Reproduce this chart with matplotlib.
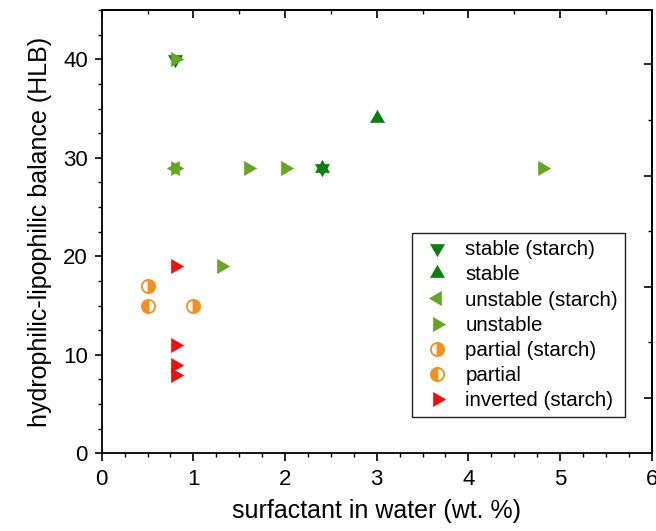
import matplotlib
matplotlib.use("Agg")
import matplotlib.pyplot as plt
from matplotlib.ticker import MultipleLocator, FixedLocator
from matplotlib.path import Path
import numpy as np

plt.rcParams['font.family'] = ['Liberation Sans', 'DejaVu Sans']

# ---- data ----
stable_starch_x = [0.8, 2.4]
stable_starch_y = [40, 29]
stable_x = [3.0, 2.4]
stable_y = [34, 29]
unstable_starch_x = [0.8]
unstable_starch_y = [29]
unstable_x = [0.8, 0.8, 1.6, 2.0, 4.8, 1.3]
unstable_y = [40, 29, 29, 29, 29, 19]
partial_starch_x = [0.5, 1.0]
partial_starch_y = [17, 15]
partial_x = [0.5]
partial_y = [15]
inverted_starch_x = [0.8, 0.8, 0.8, 0.8]
inverted_starch_y = [19, 11, 9, 8]

labels = ["stable (starch)", "stable", "unstable (starch)", "unstable",
          "partial (starch)", "partial", "inverted (starch)"]

dark_green = '#0a800f'
light_green = '#66a621'
orange = '#f5901e'
red = '#f01010'


def tri(angle_deg):
    """Equilateral triangle centred on its centroid, tip pointing at angle_deg."""
    a = np.deg2rad(angle_deg + np.array([0, 120, 240]))
    verts = np.column_stack([np.cos(a), np.sin(a)])
    verts = np.vstack([verts, verts[:1]])
    return Path(verts, [Path.MOVETO, Path.LINETO, Path.LINETO, Path.CLOSEPOLY])


t_down, t_up, t_left, t_right = tri(-90), tri(90), tri(180), tri(0)

fig = plt.figure(figsize=(6.56, 5.31), dpi=100)
ax = fig.add_axes([0.155, 0.1463, 0.8384, 0.8347])

ms_tri = 12.5
ms_circ = 9.5
ax.plot(stable_starch_x, stable_starch_y, ls='none', marker=t_down, color=dark_green, ms=ms_tri, mew=0, label=labels[0])
ax.plot(stable_x, stable_y, ls='none', marker=t_up, color=dark_green, ms=ms_tri, mew=0, label=labels[1])
ax.plot(unstable_starch_x, unstable_starch_y, ls='none', marker=t_left, color=light_green, ms=ms_tri, mew=0, label=labels[2])
ax.plot(unstable_x, unstable_y, ls='none', marker=t_right, color=light_green, ms=ms_tri, mew=0, label=labels[3])
ax.plot(partial_starch_x, partial_starch_y, 'o', ms=ms_circ, fillstyle='right',
        markerfacecolor=orange, markerfacecoloralt='white', markeredgecolor=orange, mew=1.3,
        linestyle='none', label=labels[4])
ax.plot(partial_x, partial_y, 'o', ms=ms_circ, fillstyle='left',
        markerfacecolor=orange, markerfacecoloralt='white', markeredgecolor=orange, mew=1.3,
        linestyle='none', label=labels[5])
ax.plot(inverted_starch_x, inverted_starch_y, ls='none', marker=t_right, color=red, ms=ms_tri, mew=0, label=labels[6])

ax.set_xlim(0, 6)
ax.set_ylim(0, 45)
ax.xaxis.set_major_locator(MultipleLocator(1))
ax.xaxis.set_minor_locator(MultipleLocator(0.25))
ax.yaxis.set_major_locator(FixedLocator([0, 10, 20, 30, 40]))
ax.yaxis.set_minor_locator(MultipleLocator(2.5))

for s in ax.spines.values():
    s.set_linewidth(1.3)

ax.tick_params(which='major', direction='out', length=5, width=1.2, labelsize=16, pad=5)
ax.tick_params(which='minor', direction='out', length=3, width=1.0)
ax.tick_params(axis='x', which='major', length=6)

# top axis: inward ticks
top = ax.secondary_xaxis('top')
top.xaxis.set_major_locator(MultipleLocator(1))
top.xaxis.set_minor_locator(MultipleLocator(0.5))
top.tick_params(which='major', direction='in', length=6, width=1.2, labeltop=False)
top.tick_params(which='minor', direction='in', length=3, width=1.0)
top.spines['top'].set_linewidth(1.3)

# right axis: inward ticks (independent scale in original)
right = ax.secondary_yaxis('right')
right.yaxis.set_major_locator(FixedLocator([5.64, 16.9, 28.2, 39.5]))
right.yaxis.set_minor_locator(FixedLocator([11.27, 22.55, 33.85]))
right.tick_params(which='major', direction='in', length=6, width=1.2, labelright=False)
right.tick_params(which='minor', direction='in', length=3, width=1.0)
right.spines['right'].set_linewidth(1.3)

ax.set_xlabel("surfactant in water (wt. %)", fontsize=18, labelpad=7)
ax.set_ylabel("hydrophilic-lipophilic balance (HLB)", fontsize=18, labelpad=8)

leg = ax.legend(loc='upper left', bbox_to_anchor=(0.564, 0.497), borderaxespad=0,
                fontsize=14.8, frameon=True, fancybox=False, framealpha=1,
                edgecolor='#222222', labelspacing=0.3, handlelength=1.75,
                handletextpad=0.5, borderpad=0.35, numpoints=1)
leg.get_frame().set_linewidth(1.0)

fig.savefig("out.png", dpi=100)
